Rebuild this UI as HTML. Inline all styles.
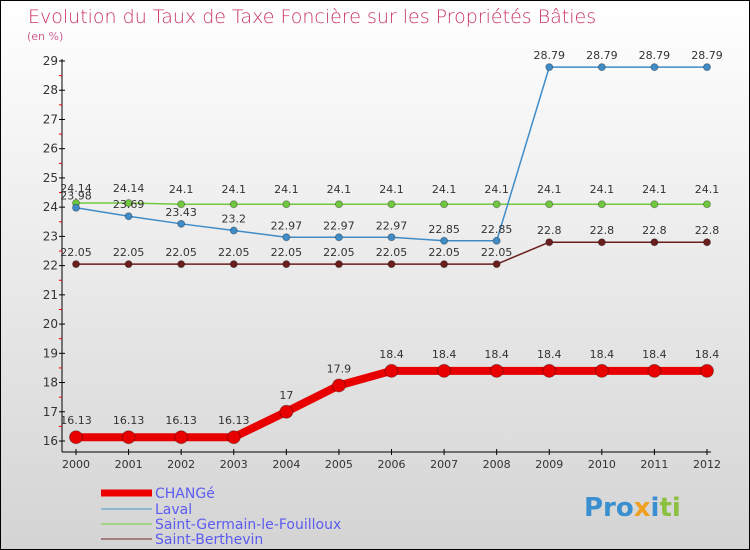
<!DOCTYPE html>
<html><head><meta charset="utf-8"><style>
body{margin:0}
#c{position:relative;width:748px;height:548px;border:1px solid #000;background:linear-gradient(#fff,#d4d4d4);font-family:"DejaVu Sans","Liberation Sans",sans-serif;overflow:hidden}
</style></head><body>
<div id="c">
<svg id="s" width="748" height="548" style="position:absolute;left:0;top:0">
<text x="27" y="22" font-size="19" fill="#c8336a" font-family="DejaVu Sans,sans-serif" style="font-weight:200">Evolution du Taux de Taxe Foncière sur les Propriétés Bâties</text>
<text x="26" y="39" font-size="11" fill="#d06090">(en %)</text>
<g id="axes"></g><g id="series"></g>
<g>
<line x1="100" y1="492" x2="151" y2="492" stroke="#e00" stroke-width="7"/>
<text x="154" y="497" font-size="14" fill="#5c5cf0">CHANGé</text>
<line x1="100" y1="508" x2="151" y2="508" stroke="#7aaed0" stroke-width="1.5"/>
<text x="154" y="513" font-size="14" fill="#5c5cf0">Laval</text>
<line x1="100" y1="523" x2="151" y2="523" stroke="#8ed470" stroke-width="1.5"/>
<text x="154" y="528" font-size="14" fill="#5c5cf0">Saint-Germain-le-Fouilloux</text>
<line x1="100" y1="538" x2="151" y2="538" stroke="#956060" stroke-width="1.5"/>
<text x="154" y="543" font-size="14" fill="#5c5cf0">Saint-Berthevin</text>
</g>
<text x="583" y="515" font-size="26" font-weight="bold"><tspan fill="#3a8fd0">Pro</tspan><tspan fill="#f0a020">x</tspan><tspan fill="#3a8fd0">i</tspan><tspan fill="#8cc040">ti</tspan></text>
</svg></div>
<script>
const years=[2000,2001,2002,2003,2004,2005,2006,2007,2008,2009,2010,2011,2012];
const changeVals=[16.13,16.13,16.13,16.13,17,17.9,18.4,18.4,18.4,18.4,18.4,18.4,18.4];
const lavalVals=[23.98,23.69,23.43,23.2,22.97,22.97,22.97,22.85,22.85,28.79,28.79,28.79,28.79];
const sgfVals=[24.14,24.14,24.1,24.1,24.1,24.1,24.1,24.1,24.1,24.1,24.1,24.1,24.1];
const sbVals=[22.05,22.05,22.05,22.05,22.05,22.05,22.05,22.05,22.05,22.8,22.8,22.8,22.8];
const yTicks=[16,17,18,19,20,21,22,23,24,25,26,27,28,29];
const NS="http://www.w3.org/2000/svg";
const xs=i=>75+i*(706-75)/(years.length-1);
const ys=v=>440-(v-16)*(440-60)/13;
function mk(t,a,p){const e=document.createElementNS(NS,t);for(const k in a)e.setAttribute(k,a[k]);p.appendChild(e);return e;}
const ax=document.getElementById('axes'),se=document.getElementById('series');
mk('line',{x1:61,y1:58,x2:61,y2:451,stroke:'#000'},ax);
mk('line',{x1:61,y1:451,x2:710,y2:451,stroke:'#000'},ax);
yTicks.forEach(v=>{const y=ys(v);
mk('line',{x1:58,y1:y,x2:64,y2:y,stroke:'#000'},ax);
if(v<29)mk('line',{x1:58,y1:y-14.6,x2:61,y2:y-14.6,stroke:'#e00'},ax);
const t=mk('text',{x:57,y:y+4,'font-size':12,fill:'#333','text-anchor':'end'},ax);t.textContent=v;

});
years.forEach((yr,i)=>{const x=xs(i);
mk('line',{x1:x,y1:448,x2:x,y2:454,stroke:'#000'},ax);
const t=mk('text',{x:x,y:467,'font-size':11,fill:'#333','text-anchor':'middle'},ax);t.textContent=yr;

});
function series(vals,color,w,r,name,lblOff){
const g=mk('g',{},se);


mk('polyline',{points:vals.map((v,i)=>xs(i)+','+ys(v)).join(' '),fill:'none',stroke:color,'stroke-width':w,'stroke-linejoin':'round'},g);
vals.forEach((v,i)=>{const c=mk('circle',{cx:xs(i),cy:ys(v),r:r,fill:color,stroke:'rgba(0,0,0,0.3)'},g);


const t=mk('text',{x:xs(i),y:ys(v)+lblOff,'font-size':11,fill:'#333','text-anchor':'middle'},g);t.textContent=v;});}
series(sbVals,'#6a1e1e',1.5,3.5,'saint-berthevin-series',-8);
series(sgfVals,'#70c840',1.5,3.5,'saint-germain-series',-11);
series(lavalVals,'#3f8cc8',1.5,3.5,'laval-series',-8);
series(changeVals,'#e80000',8,6.5,'change-series',-13);
</script>
</body></html>
